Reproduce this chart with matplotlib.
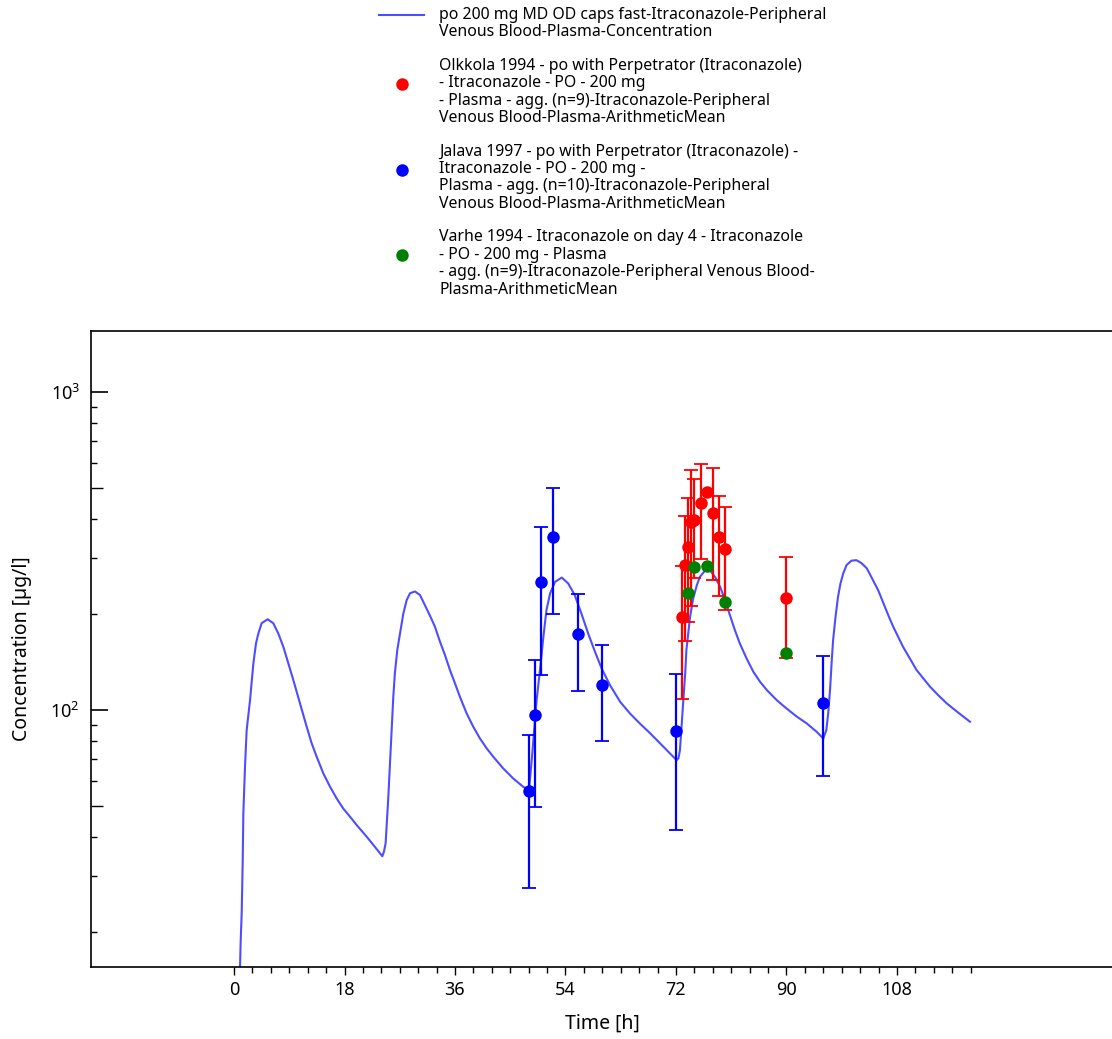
import matplotlib
matplotlib.use("Agg")
import matplotlib.pyplot as plt
from matplotlib.lines import Line2D
from matplotlib.legend_handler import HandlerLine2D
from matplotlib.ticker import FixedLocator, NullFormatter, LogFormatterSciNotation

plt.rcParams['font.family'] = ['Noto Sans', 'DejaVu Sans']
plt.rcParams['mathtext.fontset'] = 'custom'
plt.rcParams['mathtext.rm'] = 'Noto Sans'
plt.rcParams['mathtext.it'] = 'Noto Sans:italic'
plt.rcParams['mathtext.bf'] = 'Noto Sans:bold'

# ---- simulation ----
sim_t = [0.9, 0.98, 1.09, 1.25, 1.41, 1.52, 1.79, 2.06, 2.61, 3.15, 3.58, 3.96, 4.5, 5.48,
         6.4, 7.22, 8.04, 8.85, 9.66, 10.75, 11.84, 12.65, 13.47, 14.55, 15.64, 16.73, 17.8,
         18.9, 19.98, 21.6, 22.97, 24.16, 24.43, 24.7, 24.98, 25.14, 25.41, 25.68, 25.95,
         26.2, 26.6, 27.04, 27.58, 28.13, 28.67, 29.48, 30.3, 31.1, 31.9, 32.74, 33.56, 34.37,
         35.18, 36.0, 36.8, 37.9, 38.98, 40.07, 41.16, 42.24, 43.87, 45.5, 47.1, 48.05,
         48.5, 48.9, 49.3, 49.85, 50.4, 50.9, 51.5, 52.3, 53.4, 54.45, 55.5, 56.6, 57.7,
         58.8, 59.9, 61.25, 62.9, 64.5, 66.1, 67.8, 69.4, 71.0, 72.1, 72.4, 72.65, 72.9,
         73.2, 73.5, 73.7, 74.3, 74.8, 75.4, 75.9, 76.7, 77.5, 78.35, 79.2, 80.0, 80.8,
         81.6, 82.4, 83.5, 84.6, 85.7, 86.8, 88.4, 90.0, 91.7, 93.3, 94.9, 96.0, 96.5,
         96.8, 97.1, 97.35, 97.6, 98.0, 98.4, 98.8, 99.25, 99.8, 100.6, 101.4, 102.2, 103.1,
         104.1, 104.95, 105.8, 106.6, 107.4, 108.2, 109.0, 110.1, 111.2, 112.3, 113.4,
         114.7, 116.1, 118.0, 119.9]
sim_c = [12.0, 15.6, 18.9, 23.0, 33.0, 47.4, 66.3, 86.5, 107.5, 140, 162, 174, 187.5, 193,
         187.5, 174, 158, 140, 124.3, 105, 88.6, 78.6, 71.3, 63.2, 57.4, 52.7, 49.0,
         46.2, 43.5, 40.0, 37.1, 34.7, 35.9, 38.1, 47.4, 53.4, 68.0, 86.5, 110.1,
         130, 154.5, 174, 201, 221.7, 233, 236, 230, 213.6, 198.5, 182.7, 164, 148.9,
         133.6, 121.3, 110.1, 97.6, 88.6, 81.4, 75.8, 71.3, 65.5, 60.9, 57.4, 56.0,
         69.6, 86.5, 107.5, 133.6, 170, 206, 233, 253, 261, 250, 230, 201, 174,
         152.6, 135, 119.8, 106.2, 97.6, 90.8, 84.5, 78.6, 73.1, 69.6, 70.5, 74.8, 88.6,
         107.5, 130, 154.5, 196.6, 224, 247, 262.5, 274, 275.6, 262.5, 244, 221.7, 198.5,
         178.4, 162, 145.4, 132, 122.7, 115.6, 107.5, 101.2, 95.3, 90.8, 85.5, 81.4, 86.5,
         97.6, 115.6, 140, 166, 196.6, 227, 250, 269, 286, 295, 296, 290, 279,
         256, 238, 216.6, 198.5, 182.7, 170, 158, 145.4, 133.6, 125.8, 118.4,
         111.5, 105, 98.1, 91.9]

# ---- Olkkola 1994 (red) ----
olk_t = [73.0, 73.5, 74.0, 74.5, 75.0, 76.0, 77.0, 78.0, 79.0, 80.0, 90.0]
olk_c = [196, 286, 326, 391, 396, 447, 484, 416, 350, 320, 225]
olk_sd = [88, 121, 137, 178, 135, 149, 0, 160, 122, 114, 79]

# ---- Jalava 1997 (blue) ----
jal_t = [48, 49, 50, 52, 56, 60, 72, 96]
jal_c = [55.6, 96.4, 252.6, 350, 173, 120, 86, 105]
jal_sd = [28, 47, 124, 150, 58, 40, 44, 43]

# ---- Varhe 1994 (green) ----
var_t = [74, 75, 77, 80, 90]
var_c = [233, 282, 283.5, 219, 151.4]

labels = [
    "po 200 mg MD OD caps fast-Itraconazole-Peripheral\nVenous Blood-Plasma-Concentration",
    "Olkkola 1994 - po with Perpetrator (Itraconazole)\n- Itraconazole - PO - 200 mg\n"
    "- Plasma - agg. (n=9)-Itraconazole-Peripheral\nVenous Blood-Plasma-ArithmeticMean",
    "Jalava 1997 - po with Perpetrator (Itraconazole) -\nItraconazole - PO - 200 mg -\n"
    "Plasma - agg. (n=10)-Itraconazole-Peripheral\nVenous Blood-Plasma-ArithmeticMean",
    "Varhe 1994 - Itraconazole on day 4 - Itraconazole\n- PO - 200 mg - Plasma\n"
    "- agg. (n=9)-Itraconazole-Peripheral Venous Blood-\nPlasma-ArithmeticMean",
]

x_major = [0, 18, 36, 54, 72, 90, 108]
x_minor = list(range(0, 121, 3))
y_minor = [20, 30, 40, 50, 60, 70, 80, 90, 200, 300, 400, 500, 600, 700, 800, 900]


class ShiftedHandler(HandlerLine2D):
    def __init__(self, shift, **kw):
        super().__init__(**kw)
        self.shift = shift

    def create_artists(self, legend, orig_handle, xdescent, ydescent, width, height,
                       fontsize, trans):
        return super().create_artists(legend, orig_handle, xdescent, ydescent - self.shift,
                                      width, height, fontsize, trans)


W, H = 1112, 1039
fig = plt.figure(figsize=(W / 100, H / 100), dpi=100)
ax = fig.add_axes([91 / W, 1 - 967 / H, (1113 - 91) / W, (967 - 331) / H])
ax.set_yscale('log')

line_color = '#4d4dff'
ax.plot(sim_t, sim_c, color=line_color, lw=1.5, zorder=2)

mk = 9
eb_kw = dict(fmt='none', elinewidth=1.6, capsize=5, capthick=1.3, zorder=3)
olk_err_t = [t for t, s in zip(olk_t, olk_sd) if s > 0]
olk_err_c = [c for c, s in zip(olk_c, olk_sd) if s > 0]
olk_err_s = [s for s in olk_sd if s > 0]
ax.errorbar(olk_err_t, olk_err_c, yerr=olk_err_s, ecolor='#ff0000', **eb_kw)
ax.plot(olk_t, olk_c, 'o', color='#ff0000', ms=mk, mec='none', zorder=4)
ax.errorbar(jal_t, jal_c, yerr=jal_sd, ecolor='#0000ff', **eb_kw)
ax.plot(jal_t, jal_c, 'o', color='#0000ff', ms=mk, mec='none', zorder=4)
ax.plot(var_t, var_c, 'o', color='#008000', ms=mk, mec='none', zorder=5)

ax.set_xlim(-23.3, 143.2)
ax.set_ylim(15.56, 1556)

ax.xaxis.set_major_locator(FixedLocator(x_major))
ax.xaxis.set_minor_locator(FixedLocator(x_minor))
ax.yaxis.set_major_locator(FixedLocator([100, 1000]))
ax.yaxis.set_major_formatter(LogFormatterSciNotation())
ax.yaxis.set_minor_locator(FixedLocator(y_minor))
ax.yaxis.set_minor_formatter(NullFormatter())

ax.tick_params(axis='x', which='major', direction='out', length=6, width=1, labelsize=13, pad=4)
ax.tick_params(axis='x', which='minor', direction='out', length=4, width=1)
ax.tick_params(axis='y', which='major', direction='in', length=12, width=1.2, labelsize=13, pad=8)
ax.tick_params(axis='y', which='minor', direction='in', length=4.3, width=1)

mticks = ax.yaxis.get_minor_ticks(len(y_minor))
for v, tk in zip(y_minor, mticks):
    if v in (50, 500):
        tk.tick1line.set_markersize(8.3)

for s in ['left', 'bottom', 'top', 'right']:
    ax.spines[s].set_linewidth(1.2)

ax.set_xlabel('Time [h]', fontsize=14, labelpad=11)
ax.set_ylabel('Concentration [µg/l]', fontsize=14, labelpad=13)

handles = [
    Line2D([], [], color=line_color, lw=1.5),
    Line2D([], [], marker='o', ls='none', color='#ff0000', ms=mk, mec='none'),
    Line2D([], [], marker='o', ls='none', color='#0000ff', ms=mk, mec='none'),
    Line2D([], [], marker='o', ls='none', color='#008000', ms=mk, mec='none'),
]
hmap = {handles[0]: ShiftedHandler(13.6)}
for hd in handles[1:]:
    hmap[hd] = ShiftedHandler(12.4)
leg = fig.legend(handles, labels, loc='upper left', bbox_to_anchor=(379 / W, 1 - 7 / H),
                 frameon=False, fontsize=11.4, handlelength=2.85, handletextpad=0.95,
                 labelspacing=1.1, borderpad=0, borderaxespad=0, handler_map=hmap)
for txt in leg.get_texts():
    txt.set_linespacing(1.12)

fig.savefig('out.png', dpi=100)
